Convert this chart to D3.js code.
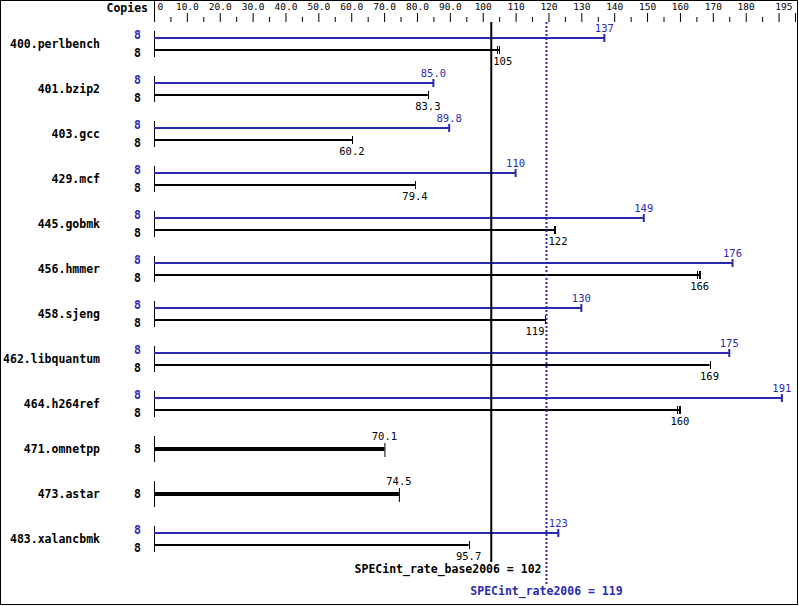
<!DOCTYPE html>
<html>
<head>
<meta charset="utf-8">
<script src="https://cdn.jsdelivr.net/npm/d3@7"></script>
<style>
  body { margin: 0; background: #fff; }
  svg { display: block; }
</style>
</head>
<body>
<div id="chart"></div>
<script>
// values
const benchmarks = [
  '400.perlbench', '401.bzip2', '403.gcc', '429.mcf', '445.gobmk', '456.hmmer',
  '458.sjeng', '462.libquantum', '464.h264ref', '471.omnetpp', '473.astar', '483.xalancbmk'
];
const baseCopies = [8, 8, 8, 8, 8, 8, 8, 8, 8, 8, 8, 8];
const peakCopies = [8, 8, 8, 8, 8, 8, 8, 8, 8, null, null, 8];
const baseRatio = [105, 83.3, 60.2, 79.4, 122, 166, 119, 169, 160, 70.1, 74.5, 95.7];
const peakRatio = [137, 85.0, 89.8, 110, 149, 176, 130, 175, 191, null, null, 123];
// extra run marks near the bar ends where visible
const baseRunMin = [104.3, 83.3, 60.2, 79.4, 121.7, 165.1, 119, 169, 159.2, 70.1, 74.5, 95.7];
const baseRunMid = [105, 83.3, 60.2, 79.4, 122, 165.8, 119, 169, 159.6, 70.1, 74.5, 95.7];

const majorTicks = [0, 10, 20, 30, 40, 50, 60, 70, 80, 90, 100, 110, 120, 130, 140, 150, 160, 170, 180, 190, 195];
const majorTickLabels = ['0', '10.0', '20.0', '30.0', '40.0', '50.0', '60.0', '70.0', '80.0', '90.0',
  '100', '110', '120', '130', '140', '150', '160', '170', '180', '', '195'];
const minorTicks = d3.range(5, 190, 10);

const meanBase = 102.6;
const meanPeak = 119.4;
const meanBaseLabel = 'SPECint_rate_base2006 = 102';
const meanPeakLabel = 'SPECint_rate2006 = 119';

const width = 799;
const height = 606;
const blue = '#2a2ab0';
const mono = '"DejaVu Sans Mono", monospace';

const xScale = d3.scaleLinear().domain([0, 195]).range([154, 795]);
const yScale = d3.scalePoint().domain(benchmarks).range([44, 44 + 45 * 11]);
const meanXs = [xScale(meanBase), xScale(meanPeak)];

const svg = d3.select('#chart')
  .append('svg')
  .attr('width', width)
  .attr('height', height);

svg.append('rect')
  .attr('x', 0.5).attr('y', 0.5)
  .attr('width', width - 2).attr('height', height - 2)
  .attr('fill', 'none').attr('stroke', '#000');

// top axis
const axisY = 22;
const majorAxis = svg.append('g')
  .attr('transform', `translate(0,${axisY})`)
  .call(d3.axisTop(xScale).tickValues(majorTicks).tickSize(9).tickSizeOuter(0)
    .tickFormat((d, i) => majorTickLabels[i]));
majorAxis.select('.domain').remove();
majorAxis.selectAll('text')
  .attr('y', -12)
  .style('font-family', mono)
  .style('font-size', '9.5px')
  .attr('fill', '#000');
majorAxis.selectAll('text').filter((d) => d === 0)
  .attr('text-anchor', 'start')
  .attr('dx', 3);
majorAxis.selectAll('text').filter((d) => d === 195)
  .attr('text-anchor', 'end')
  .attr('dx', -3);

const minorAxis = svg.append('g')
  .attr('transform', `translate(0,${axisY})`)
  .call(d3.axisTop(xScale).tickValues(minorTicks).tickSize(5).tickFormat(''));
minorAxis.select('.domain').remove();

svg.append('line')
  .attr('x1', xScale(0) + 0.5).attr('x2', xScale(0) + 0.5)
  .attr('y1', 0).attr('y2', axisY)
  .attr('stroke', '#000');

svg.append('text')
  .attr('x', 148).attr('y', 12)
  .attr('text-anchor', 'end')
  .style('font-family', mono)
  .style('font-size', '11.5px')
  .style('font-weight', 'bold')
  .text('Copies');

// keep a value label off the mean lines
function placeLabel(text, cx) {
  const w = text.node().getComputedTextLength();
  let left = cx - w / 2;
  meanXs.forEach((mx) => {
    if (mx > left - 1 && mx < left + w + 1) {
      left = cx < mx ? mx - 2 - w : mx + 2;
    }
  });
  text.attr('text-anchor', 'start').attr('x', left);
}

// one group per benchmark
const groups = svg.selectAll('g.bench')
  .data(benchmarks)
  .enter()
  .append('g')
  .attr('class', 'bench')
  .attr('transform', (d) => `translate(0,${yScale(d)})`);

groups.append('text')
  .attr('x', 100).attr('y', 4)
  .attr('text-anchor', 'end')
  .style('font-family', mono)
  .style('font-size', '11.5px')
  .style('font-weight', 'bold')
  .text((d) => d);

groups.append('line')
  .attr('x1', xScale(0) + 0.5).attr('x2', xScale(0) + 0.5)
  .attr('y1', -13).attr('y2', 13)
  .attr('stroke', '#000');

groups.each(function (d, i) {
  const g = d3.select(this);
  const x0 = xScale(0);
  const single = peakRatio[i] == null;

  if (single) {
    const xe = xScale(baseRatio[i]);
    g.append('text')
      .attr('x', 141).attr('y', 4)
      .attr('text-anchor', 'end')
      .style('font-family', mono).style('font-size', '11.5px').style('font-weight', 'bold')
      .text(baseCopies[i]);
    g.append('rect')
      .attr('x', x0).attr('y', -2)
      .attr('width', xe - x0).attr('height', 4)
      .attr('fill', '#000');
    g.append('line')
      .attr('x1', xe + 0.5).attr('x2', xe + 0.5)
      .attr('y1', -6).attr('y2', 8)
      .attr('stroke', '#000');
    const t = g.append('text')
      .attr('y', -9)
      .style('font-family', mono).style('font-size', '10.5px')
      .text(d3.format('.3r')(baseRatio[i]));
    placeLabel(t, xe);
    return;
  }

  // peak bar (blue, upper)
  const yp = -6;
  const xp = xScale(peakRatio[i]);
  g.append('text')
    .attr('x', 141).attr('y', yp + 1)
    .attr('text-anchor', 'end')
    .attr('fill', blue)
    .style('font-family', mono).style('font-size', '11.5px').style('font-weight', 'bold')
    .text(peakCopies[i]);
  g.append('rect')
    .attr('x', x0).attr('y', yp - 1)
    .attr('width', xp - x0).attr('height', 2)
    .attr('fill', blue);
  g.append('rect')
    .attr('x', xp - 1).attr('y', yp - 4)
    .attr('width', 2).attr('height', 8)
    .attr('fill', blue);
  const tp = g.append('text')
    .attr('y', yp - 6)
    .attr('fill', blue)
    .style('font-family', mono).style('font-size', '10.5px')
    .text(d3.format('.3r')(peakRatio[i]));
  placeLabel(tp, xp);

  // base bar (black, lower)
  const yb = 6;
  const xb = xScale(baseRatio[i]);
  g.append('text')
    .attr('x', 141).attr('y', yb + 7)
    .attr('text-anchor', 'end')
    .style('font-family', mono).style('font-size', '11.5px').style('font-weight', 'bold')
    .text(baseCopies[i]);
  g.append('rect')
    .attr('x', x0).attr('y', yb - 1)
    .attr('width', xb - x0).attr('height', 2)
    .attr('fill', '#000');
  [baseRunMin[i], baseRunMid[i], baseRatio[i]].forEach((v) => {
    const xv = Math.round(xScale(v));
    g.append('line')
      .attr('x1', xv + 0.5).attr('x2', xv + 0.5)
      .attr('y1', yb - 4).attr('y2', yb + 4)
      .attr('stroke', '#000');
  });
  const tb = g.append('text')
    .attr('y', yb + 15)
    .style('font-family', mono).style('font-size', '10.5px')
    .text(d3.format('.3r')(baseRatio[i]));
  placeLabel(tb, xb);
});

// mean lines
svg.append('line')
  .attr('x1', xScale(meanBase)).attr('x2', xScale(meanBase))
  .attr('y1', 22).attr('y2', 562)
  .attr('stroke', '#000').attr('stroke-width', 2);

svg.append('line')
  .attr('x1', xScale(meanPeak)).attr('x2', xScale(meanPeak))
  .attr('y1', 22).attr('y2', 584)
  .attr('stroke', blue).attr('stroke-width', 2)
  .attr('stroke-dasharray', '2,2');

svg.append('text')
  .attr('x', xScale(meanPeak) - 5).attr('y', 573)
  .attr('text-anchor', 'end')
  .style('font-family', mono).style('font-size', '11.5px').style('font-weight', 'bold')
  .text(meanBaseLabel);

svg.append('text')
  .attr('x', xScale(meanPeak)).attr('y', 595)
  .attr('text-anchor', 'middle')
  .attr('fill', blue)
  .style('font-family', mono).style('font-size', '11.5px').style('font-weight', 'bold')
  .text(meanPeakLabel);
</script>
</body>
</html>
